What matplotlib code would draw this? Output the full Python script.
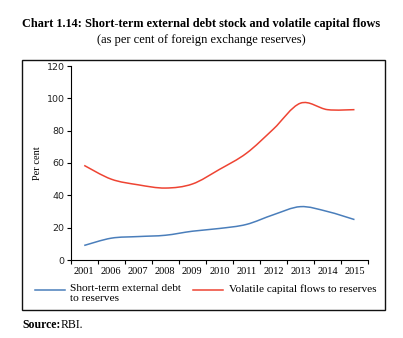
import numpy as np
import matplotlib
matplotlib.use("Agg")
import matplotlib.pyplot as plt
from matplotlib.path import Path
from matplotlib.patches import PathPatch, Rectangle
from matplotlib.lines import Line2D

years = ['2001', '2006', '2007', '2008', '2009', '2010', '2011', '2012', '2013', '2014', '2015']
debt_to_reserves = [9.0, 13.5, 14.5, 15.3, 17.8, 19.5, 22.0, 28.0, 33.0, 30.0, 25.0]
volatile_flows = [58.5, 50.0, 46.5, 44.5, 47.0, 56.0, 66.0, 81.0, 97.0, 93.0, 93.0]

BLUE = '#4a7ebb'
RED = '#ee4433'
SERIF = 'Liberation Serif'


def smooth_path(xs, ys):
    # Excel style smoothed line: cubic bezier through each point
    pts = np.column_stack([xs, ys]).astype(float)
    n = len(pts)
    verts = [pts[0]]
    codes = [Path.MOVETO]
    for i in range(n - 1):
        p0 = pts[max(i - 1, 0)]
        p1 = pts[i]
        p2 = pts[i + 1]
        p3 = pts[min(i + 2, n - 1)]
        c1 = p1 + (p2 - p0) / 6.0
        c2 = p2 - (p3 - p1) / 6.0
        verts += [c1, c2, p2]
        codes += [Path.CURVE4] * 3
    return Path(verts, codes)


fig = plt.figure(figsize=(4.03, 3.38), dpi=100)
ax = fig.add_axes([70.7 / 403, 1 - 260 / 338, 297.3 / 403, 194 / 338])

x = np.arange(len(years))
for vals, col in [(debt_to_reserves, BLUE), (volatile_flows, RED)]:
    ax.add_patch(PathPatch(smooth_path(x, vals), facecolor='none', edgecolor=col, lw=1.1))

ax.set_xlim(-0.5, len(years) - 0.5)
ax.set_ylim(0, 120)
ax.set_yticks(np.arange(0, 121, 20))
ax.set_xticks(x)
ax.set_xticklabels(years, family=SERIF, fontsize=7.5)
ax.set_xticks(np.arange(-0.5, len(years), 1), minor=True)
ax.tick_params(axis='x', which='major', length=0, pad=5)
ax.tick_params(axis='x', which='minor', length=3, width=0.8, direction='out')
ax.tick_params(axis='y', length=3, width=0.8, labelsize=6.8, pad=1.5)
for lab in ax.get_yticklabels():
    lab.set_color('#222222')
for s in ['top', 'right']:
    ax.spines[s].set_visible(False)
for s in ['left', 'bottom']:
    ax.spines[s].set_linewidth(0.8)
ax.set_ylabel('Per cent', family=SERIF, fontsize=7.5, labelpad=3)

# legend, drawn by hand so the key line sits on the first text line
leg_y = 1 - 290 / 338
fig.add_artist(Line2D([35 / 403, 65 / 403], [leg_y, leg_y], color=BLUE, lw=1.1,
                      transform=fig.transFigure))
fig.add_artist(Line2D([193 / 403, 223 / 403], [leg_y, leg_y], color=RED, lw=1.1,
                      transform=fig.transFigure))
fig.text(70 / 403, 1 - 284 / 338, 'Short-term external debt\nto reserves', ha='left', va='top',
         family=SERIF, fontsize=8.2, linespacing=1.1)
fig.text(229 / 403, 1 - 284 / 338, 'Volatile capital flows to reserves', ha='left', va='top',
         family=SERIF, fontsize=8.1)

fig.patches.append(Rectangle((22 / 403, 1 - 310 / 338), 363 / 403, 250 / 338,
                             transform=fig.transFigure, fill=False, lw=1.0, ec='#111111'))

fig.text(0.5, 1 - 24 / 338, 'Chart 1.14: Short-term external debt stock and volatile capital flows',
         ha='center', va='center', family=SERIF, weight='bold', fontsize=8.8)
fig.text(0.5, 1 - 40 / 338, '(as per cent of foreign exchange reserves)',
         ha='center', va='center', family=SERIF, fontsize=9)
fig.text(22 / 403, 1 - 325 / 338, 'Source:', ha='left', va='center', family=SERIF,
         weight='bold', fontsize=8.5)
fig.text(61 / 403, 1 - 325 / 338, 'RBI.', ha='left', va='center', family=SERIF, fontsize=8.5)

fig.savefig('out.png', dpi=100)
